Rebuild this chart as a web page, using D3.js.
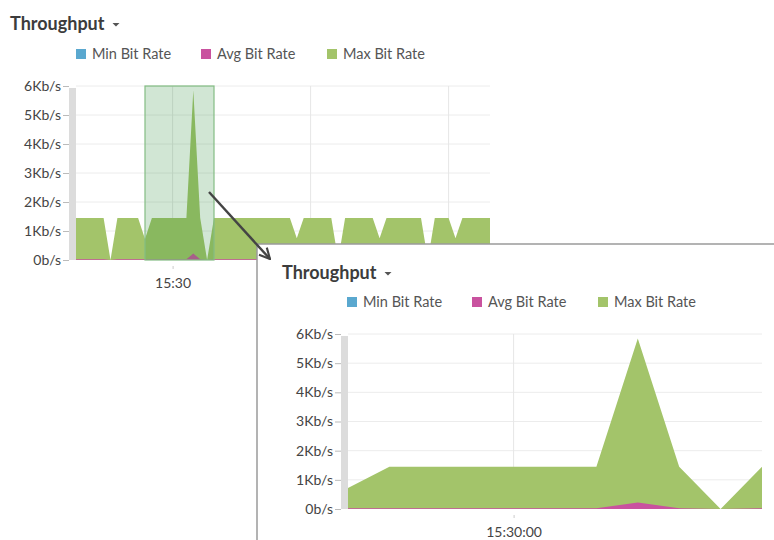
<!DOCTYPE html>
<html>
<head>
<meta charset="utf-8">
<script src="https://cdn.jsdelivr.net/npm/d3@7"></script>
<style>
  body { margin: 0; background: #fff; }
  text { font-family: Lato, "Open Sans", sans-serif; }
</style>
</head>
<body>
<svg id="viz" width="774" height="540"></svg>
<script>
// 10 second samples, first one at 15:27:40
var startTime = new Date(2020, 0, 1, 15, 27, 40);
var seriesNames = ["Min Bit Rate", "Avg Bit Rate", "Max Bit Rate"];
var seriesColors = ["#5aa8cf", "#c9529f", "#a3c46a"];

// Kb/s
var maxRate = [1.45, 1.45, 1.45, 1.45, 1.45, 0, 1.45, 1.45, 1.45, 1.45,
               0.72, 1.45, 1.45, 1.45, 1.45, 1.45, 1.45, 5.85, 1.45, 0,
               1.45, 1.45, 1.45, 1.45, 1.45, 1.45, 1.45, 1.45, 1.45, 1.45,
               1.45, 1.45, 0.75, 1.45, 1.45, 1.45, 1.45, 1.45, 0, 1.45,
               1.45, 1.45, 1.45, 1.45, 0.75, 1.45, 1.45, 1.45, 1.45, 1.45,
               1.45, 0, 1.45, 1.45, 1.45, 0.75, 1.45, 1.45, 1.45, 1.45,
               1.45];
var avgRate = [0.03, 0.03, 0.03, 0.03, 0.03, 0, 0.03, 0.03, 0.03, 0.03,
               0.03, 0.03, 0.03, 0.03, 0.03, 0.03, 0.03, 0.22, 0.03, 0,
               0.03, 0.03, 0.03, 0.03, 0.03, 0.03, 0.03, 0.03, 0.03, 0.03,
               0.03, 0.03, 0.03, 0.03, 0.03, 0.03, 0.03, 0.03, 0, 0.03,
               0.03, 0.03, 0.03, 0.03, 0.03, 0.03, 0.03, 0.03, 0.03, 0.03,
               0.03, 0, 0.03, 0.03, 0.03, 0.03, 0.03, 0.03, 0.03, 0.03,
               0.03];
var minRate = [0, 0, 0, 0, 0, 0, 0, 0, 0, 0,
               0, 0, 0, 0, 0, 0, 0, 0, 0, 0,
               0, 0, 0, 0, 0, 0, 0, 0, 0, 0,
               0, 0, 0, 0, 0, 0, 0, 0, 0, 0,
               0, 0, 0, 0, 0, 0, 0, 0, 0, 0,
               0, 0, 0, 0, 0, 0, 0, 0, 0, 0,
               0];
var yTicks = [0, 1, 2, 3, 4, 5, 6];
// gridlines of the overview; only the first label is not hidden by the zoom panel
var overviewGrid = [new Date(2020, 0, 1, 15, 30, 0), new Date(2020, 0, 1, 15, 33, 20), new Date(2020, 0, 1, 15, 36, 40)];
var overviewTicks = [new Date(2020, 0, 1, 15, 30, 0)];
var detailTicks = [new Date(2020, 0, 1, 15, 30, 0)];
// selected window (zoomed in the lower panel)
var brushStart = 10, brushEnd = 20;

var times = maxRate.map(function(d, i) { return new Date(startTime.getTime() + i * 10000); });
var rows = times.map(function(t, i) {
  return { t: t, v: [minRate[i], avgRate[i], maxRate[i]] };
});

var svg = d3.select("#viz");

svg.append("defs").append("marker")
    .attr("id", "arrowhead")
    .attr("viewBox", "0 0 10 10")
    .attr("refX", 9).attr("refY", 5)
    .attr("markerWidth", 5.5).attr("markerHeight", 5.5)
    .attr("orient", "auto")
  .append("path")
    .attr("d", "M1,1 L9,5 L1,9")
    .style("fill", "none")
    .style("stroke", "#444")
    .style("stroke-width", 1.6);

function drawChart(g, o) {
  var x = d3.scaleTime().domain(o.domain).range([o.left, o.right]);
  var y = d3.scaleLinear().domain([0, 6]).range([o.bottom, o.top]);

  // title + caret
  var title = g.append("text")
      .attr("x", o.titleX).attr("y", o.titleY)
      .style("font-size", "18px").style("font-weight", 700)
      .style("fill", "#3c3c3c")
      .text("Throughput");
  var tw = title.node().getComputedTextLength();
  g.append("path")
      .attr("d", "M0,0 L7,0 L3.5,3.5Z")
      .attr("transform", "translate(" + (o.titleX + tw + 8) + "," + (o.titleY - 7) + ")")
      .style("fill", "#555");

  // legend
  var leg = g.selectAll(".leg")
      .data(seriesNames)
    .enter().append("g")
      .attr("transform", function(d, i) { return "translate(" + o.legendX[i] + "," + o.legendY + ")"; });
  leg.append("rect")
      .attr("x", 0).attr("y", -5)
      .attr("width", 10).attr("height", 10)
      .style("fill", function(d, i) { return seriesColors[i]; });
  leg.append("text")
      .attr("x", 16).attr("y", 5)
      .style("font-size", "14.5px").style("fill", "#555")
      .text(function(d) { return d; });

  // grid
  g.append("g").selectAll("line")
      .data(yTicks.slice(1))
    .enter().append("line")
      .attr("x1", o.left).attr("x2", o.right)
      .attr("y1", function(d) { return y(d); }).attr("y2", function(d) { return y(d); })
      .style("stroke", "#ececec");
  g.append("g").selectAll("line")
      .data(o.grid)
    .enter().append("line")
      .attr("x1", function(d) { return x(d); }).attr("x2", function(d) { return x(d); })
      .attr("y1", o.top).attr("y2", o.bottom)
      .style("stroke", "#e6e6e6");

  // areas, max at the back
  var clipId = "clip" + o.id;
  g.append("clipPath").attr("id", clipId)
    .append("rect")
      .attr("x", o.left).attr("y", o.top - 5)
      .attr("width", o.right - o.left).attr("height", o.bottom - o.top + 5);
  var areas = g.append("g").attr("clip-path", "url(#" + clipId + ")");
  [2, 1, 0].forEach(function(k) {
    areas.append("path")
        .datum(rows)
        .attr("d", d3.area()
            .x(function(d) { return x(d.t); })
            .y0(y(0))
            .y1(function(d) { return y(d.v[k]); }))
        .style("fill", seriesColors[k]);
  });

  if (o.brush) {
    g.append("rect")
        .attr("x", x(times[brushStart])).attr("y", o.top)
        .attr("width", x(times[brushEnd]) - x(times[brushStart]))
        .attr("height", o.bottom - o.top)
        .style("fill", "#2f8f3a").style("fill-opacity", 0.22)
        .style("stroke", "#84bd84").style("stroke-width", 1.2);
  }

  // y axis with grey strip
  g.append("rect")
      .attr("x", o.left - 7).attr("y", o.top + 2)
      .attr("width", 7).attr("height", o.bottom - o.top - 2)
      .style("fill", "#dcdcdc");
  var yAxis = g.append("g")
      .attr("transform", "translate(" + (o.left - 7) + ",0)")
      .call(d3.axisLeft(y).tickValues(yTicks).tickSize(6).tickPadding(2)
          .tickFormat(function(d) { return d === 0 ? "0b/s" : d + "Kb/s"; }));
  yAxis.select(".domain").remove();
  yAxis.selectAll("line").style("stroke", "#bbb");
  yAxis.selectAll("text").style("font-size", "14px").style("fill", "#444")
      .style("font-family", "Lato, sans-serif");

  var xAxis = g.append("g")
      .attr("transform", "translate(0," + (o.bottom + 6) + ")")
      .call(d3.axisBottom(x).tickValues(o.ticks).tickSize(3).tickPadding(9)
          .tickFormat(d3.timeFormat(o.fmt)));
  xAxis.select(".domain").remove();
  xAxis.selectAll("line").style("stroke", "#ccc");
  xAxis.selectAll("text").style("font-size", "14px").style("fill", "#444")
      .style("font-family", "Lato, sans-serif");
}

// overview chart
drawChart(svg.append("g"), {
  id: "top", domain: [times[0], times[times.length - 1]],
  left: 76, right: 490, top: 86, bottom: 260,
  titleX: 10, titleY: 30, legendX: [76, 201, 327], legendY: 54,
  grid: overviewGrid, ticks: overviewTicks, fmt: "%H:%M", brush: true
});

// zoomed panel on top of it
var panel = svg.append("g");
panel.append("rect")
    .attr("x", 257).attr("y", 244)
    .attr("width", 774 - 257).attr("height", 540 - 244)
    .style("fill", "#fff");
panel.append("path")
    .attr("d", "M257,540 L257,244 L774,244")
    .style("fill", "none")
    .style("stroke", "#9a9a9a")
    .style("stroke-width", 1.5);

drawChart(panel.append("g"), {
  id: "bottom", domain: [times[brushStart], times[brushEnd]],
  left: 348, right: 762, top: 334, bottom: 509,
  titleX: 282, titleY: 279, legendX: [347, 472, 598], legendY: 302,
  grid: detailTicks, ticks: detailTicks, fmt: "%H:%M:%S", brush: false
});

svg.append("line")
    .attr("x1", 209).attr("y1", 192)
    .attr("x2", 270).attr("y2", 259)
    .attr("marker-end", "url(#arrowhead)")
    .style("stroke", "#444")
    .style("stroke-width", 2.4);
</script>
</body>
</html>
